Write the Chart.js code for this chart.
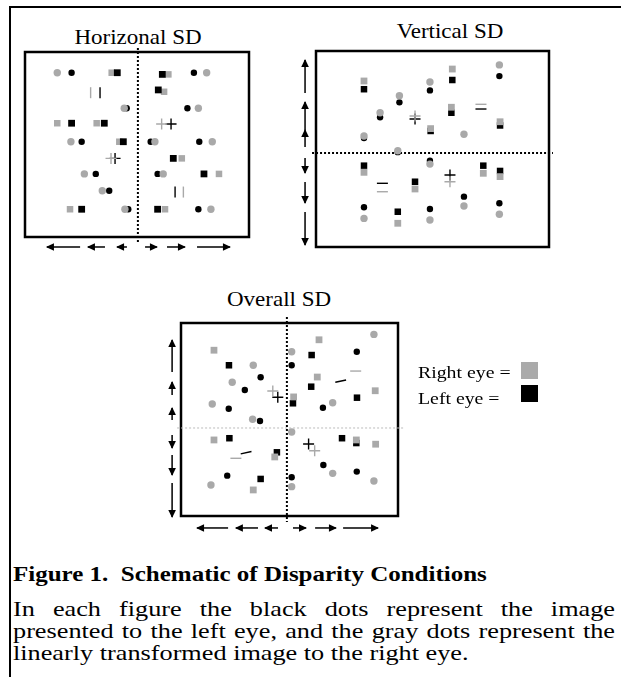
<!DOCTYPE html>
<html>
<head>
<meta charset="utf-8">
<script src="https://cdn.jsdelivr.net/npm/chart.js@4.4.1/dist/chart.umd.min.js"></script>
<style>
  html, body { margin: 0; padding: 0; background: #fff; }
  body { width: 621px; height: 677px; position: relative; overflow: hidden;
         font-family: "Liberation Serif", "Times New Roman", serif; color: #000; }
  .frame { position: absolute; left: 9px; top: 6px; right: 0; bottom: 0;
           border-top: 2px solid #000; border-left: 2px solid #000; }
  .panel { position: absolute; }
  .ttl { position: absolute; font-size: 21.5px; line-height: 1; white-space: nowrap;
         transform: translateX(-50%) scaleX(1.07); }
  .key { position: absolute; left: 418px; font-size: 16.5px; line-height: 1; white-space: nowrap;
         transform: scaleX(1.2); transform-origin: left top; }
  .sw { position: absolute; left: 521px; width: 17px; height: 17px; }
  .head { position: absolute; left: 13px; top: 564px; font-size: 20px; line-height: 1; font-weight: bold;
          white-space: pre; transform: scaleX(1.25); transform-origin: left top; }
  .body { position: absolute; left: 13px; top: 598px; width: 481.6px; font-size: 21px; line-height: 22px;
          text-align: justify; transform: scaleX(1.25); transform-origin: left top; }
</style>
</head>
<body>
<div class="frame"></div>

<div class="ttl" style="left:138px; top:27px;">Horizonal SD</div>
<div class="ttl" style="left:450px; top:21px;">Vertical SD</div>
<div class="ttl" style="left:279px; top:289px;">Overall SD</div>

<div class="panel" id="pHorz" style="left:0px; top:40px; width:270px; height:225px;"><canvas id="cHorz"></canvas></div>
<div class="panel" id="pVert" style="left:290px; top:40px; width:290px; height:225px;"><canvas id="cVert"></canvas></div>
<div class="panel" id="pAll" style="left:150px; top:310px; width:270px; height:230px;"><canvas id="cAll"></canvas></div>

<div class="key" style="top:365px;">Right eye =</div>
<div class="key" style="top:391px;">Left eye =</div>
<div class="sw" style="top:362px; background:#aaa;"></div>
<div class="sw" style="top:385px; background:#000;"></div>

<div class="head">Figure 1.  Schematic of Disparity Conditions</div>
<div class="body">In each figure the black dots represent the image presented to the left eye, and the gray dots represent the linearly transformed image to the right eye.</div>

<script>
// every panel box runs 0..100 on both axes, y upwards

// Horizonal SD
var horzGrayCircles = [[14.4,88.8],[81.1,88.8],[44.3,69.6],[77.4,69.6],[20.5,51.5],[58.0,51.5],[83.6,51.5],[26.5,34.1],[61.7,34.1],[34.5,25.0],[44.6,15.0],[83.0,15.0]];
var horzBlackCircles = [[20.8,88.8],[75.4,88.8],[45.4,69.6],[72.5,69.6],[25.3,51.5],[56.1,51.5],[77.8,51.5],[31.6,34.1],[59.2,34.1],[37.6,25.0],[46.1,15.0],[77.4,15.0]];
var horzGraySquares = [[38.7,88.8],[64.0,87.9],[62.1,78.5],[14.4,61.5],[32.0,61.5],[42.1,51.5],[70.0,42.5],[86.6,34.1],[20.1,15.0],[62.5,15.0]];
var horzBlackSquares = [[41.2,88.8],[61.3,87.9],[59.5,79.5],[20.8,61.5],[35.4,61.5],[43.9,51.5],[66.2,42.5],[79.9,34.1],[25.3,15.0],[59.2,15.0]];
var horzGrayPlus = [[61.0,61.1],[38.4,42.5]];
var horzBlackPlus = [[65.2,61.1],[40.2,42.5]];
var horzGrayBars = [[29.3,78.0],[70.7,24.3]];
var horzBlackBars = [[33.5,78.0],[67.0,24.3]];
var horzCenter = [[50.4,102.2],[50.4,-2.7]];
var horzArrowY = -5.4;
var horzArrows = [[24.6,9.8],[35.7,28.1],[45.5,41.1],[53.6,58.9],[63.4,71.4],[76.8,91.5]];

// Vertical SD
var vertGrayCircles = [[35.8,77.2],[27.5,68.5],[48.9,84.2],[78.7,92.9],[63.5,57.5],[20.6,56.6],[35.1,49.1],[48.9,42.3],[63.5,20.9],[20.6,14.6],[48.9,13.8],[78.7,16.7]];
var vertBlackCircles = [[35.8,73.8],[27.5,66.2],[48.9,79.9],[78.7,87.2],[20.6,55.6],[35.1,48.4],[48.9,44.0],[63.5,25.7],[20.6,20.3],[48.9,19.4],[78.7,22.3]];
var vertGraySquares = [[20.6,84.7],[58.5,90.8],[58.1,71.3],[49.2,60.4],[79.0,63.9],[20.6,38.1],[71.8,37.6],[79.0,35.9],[42.5,29.6],[35.1,12.1]];
var vertBlackSquares = [[20.6,80.5],[58.5,85.2],[58.1,68.5],[49.2,59.2],[79.0,62.0],[20.6,41.5],[71.8,41.5],[79.0,38.8],[42.5,33.3],[35.1,18.0]];
var vertGrayPlus = [[42.5,66.8],[57.5,33.3]];
var vertBlackPlus = [[42.5,65.3],[57.5,36.7]];
var vertGrayDash = [[70.8,72.8],[28.5,28.2]];
var vertBlackDash = [[70.8,70.4],[28.5,32.5]];
var vertCenter = [[-1.7,48.0],[101.7,48.0]];
var vertArrowX = -4.7;
var vertArrows = [[78.6,95.4],[59.7,74.0],[51.0,59.7],[45.4,37.8],[33.2,22.4],[17.9,1.0]];

// Overall SD
var allGrayCircles = [[33.3,78.1],[23.6,69.3],[14.4,58.0],[33.0,50.1],[51.0,85.1],[88.9,94.1],[69.9,58.7],[51.0,43.5],[69.9,22.1],[88.9,18.1],[13.8,16.1],[51.0,15.2]];
var allBlackCircles = [[36.7,71.9],[29.4,65.3],[22.0,55.6],[36.4,49.2],[51.0,78.1],[81.0,85.1],[65.4,56.1],[65.6,26.4],[81.0,23.0],[21.3,20.9],[51.0,20.1]];
var allGraySquares = [[15.2,85.9],[63.6,91.3],[62.8,72.0],[89.5,64.9],[51.9,61.7],[15.2,39.4],[43.2,30.6],[80.8,39.4],[89.7,37.2],[33.3,13.5]];
var allBlackSquares = [[22.1,78.1],[60.2,83.4],[60.0,67.0],[81.1,61.3],[51.6,58.4],[22.3,40.3],[44.2,33.0],[74.2,40.3],[80.8,37.8],[36.7,19.2]];
var allGrayPlus = [[42.3,64.8],[61.6,33.8]];
var allBlackPlus = [[44.6,61.5],[58.8,37.3]];
var allGrayDash = [[80.5,75.1],[25.3,29.9]];
var allBlackDash = [[73.6,69.9],[30.0,32.8]];
var allCenterV = [[48.8,103.1],[48.8,-3.1]];
var allCenterH = [[-1.8,45.6],[103.2,45.6]];
var allArrowX = -4.1;
var allArrowsV = [[74.6,91.2],[62.7,69.4],[49.7,56.0],[42.0,35.2],[31.6,21.2],[17.1,-0.5]];
var allArrowY = -6.2;
var allArrowsH = [[21.7,7.4],[35.5,25.3],[44.7,38.7],[51.6,57.6],[61.8,71.4],[74.7,90.8]];

var GRAY = '#a9a9a9';

function xy(list) {
    return list.map(p => ({x: p[0], y: p[1]}));
}

function marks(list, color, style, radius, order, rotation) {
    return {
        data: xy(list),
        pointStyle: style,
        pointRadius: radius,
        pointRotation: rotation || 0,
        backgroundColor: color,
        borderColor: color,
        pointBorderWidth: (style === 'cross' || style === 'line') ? 1.4 : 0,
        order: order,
        clip: false
    };
}

function guide(list, color, width, dash) {
    return {
        data: xy(list), showLine: true, pointRadius: 0,
        borderColor: color, borderWidth: width, borderDash: dash,
        order: 10, clip: false
    };
}

function arrowsH(list, y) {
    return list.map(a => ({
        data: [{x: a[0], y: y}, {x: a[1], y: y}],
        showLine: true, pointRadius: 0, borderColor: '#000', borderWidth: 1.5,
        arrow: true, clip: false, order: 11
    }));
}

function arrowsV(list, x) {
    return list.map(a => ({
        data: [{x: x, y: a[0]}, {x: x, y: a[1]}],
        showLine: true, pointRadius: 0, borderColor: '#000', borderWidth: 1.5,
        arrow: true, clip: false, order: 11
    }));
}

// frame of each panel drawn on the chart area
var boxFrame = {
    id: 'boxFrame',
    beforeDatasetsDraw: function (chart) {
        var a = chart.chartArea, ctx = chart.ctx;
        ctx.save();
        ctx.lineWidth = 2.5;
        ctx.strokeStyle = '#000';
        ctx.strokeRect(a.left, a.top, a.right - a.left, a.bottom - a.top);
        ctx.restore();
    }
};

// arrow heads at the last point of arrow datasets
var arrowHeads = {
    id: 'arrowHeads',
    afterDatasetsDraw: function (chart) {
        var ctx = chart.ctx;
        chart.data.datasets.forEach(function (ds, i) {
            if (!ds.arrow) return;
            var p = chart.getDatasetMeta(i).data;
            var a = p[0], b = p[1];
            var ang = Math.atan2(b.y - a.y, b.x - a.x);
            ctx.save();
            ctx.translate(b.x, b.y);
            ctx.rotate(ang);
            ctx.beginPath();
            ctx.moveTo(1, 0);
            ctx.lineTo(-7, -3.8);
            ctx.lineTo(-7, 3.8);
            ctx.closePath();
            ctx.fillStyle = '#000';
            ctx.fill();
            ctx.restore();
        });
    }
};

function panel(id, pad, datasets) {
    return new Chart(document.getElementById(id), {
        type: 'scatter',
        data: {datasets: datasets},
        options: {
            responsive: true,
            maintainAspectRatio: false,
            animation: false,
            events: [],
            layout: {padding: pad},
            scales: {
                x: {type: 'linear', min: 0, max: 100, display: false},
                y: {type: 'linear', min: 0, max: 100, display: false}
            },
            plugins: {legend: {display: false}, tooltip: {enabled: false}}
        },
        plugins: [boxFrame, arrowHeads]
    });
}

panel('cHorz', {left: 25, right: 21, top: 12, bottom: 28}, [
    marks(horzGrayCircles, GRAY, 'circle', 3.7, 0),
    marks(horzBlackCircles, '#000', 'circle', 3.2, 1),
    marks(horzBlackSquares, '#000', 'rect', 4.8, 2),
    marks(horzGraySquares, GRAY, 'rect', 4.6, 3),
    marks(horzGrayPlus, GRAY, 'cross', 5.5, 4),
    marks(horzBlackPlus, '#000', 'cross', 5.5, 4),
    marks(horzGrayBars, GRAY, 'line', 5.5, 4, 90),
    marks(horzBlackBars, '#000', 'line', 5.5, 4, 90),
    guide(horzCenter, '#000', 2, [2, 2])
].concat(arrowsH(horzArrows, horzArrowY)));

panel('cVert', {left: 26, right: 31, top: 11, bottom: 18}, [
    marks(vertGrayCircles, GRAY, 'circle', 3.7, 0),
    marks(vertBlackCircles, '#000', 'circle', 3.2, 1),
    marks(vertGraySquares, GRAY, 'rect', 4.8, 2),
    marks(vertBlackSquares, '#000', 'rect', 4.6, 3),
    marks(vertGrayPlus, GRAY, 'cross', 5.5, 4),
    marks(vertBlackPlus, '#000', 'cross', 5.5, 4),
    marks(vertGrayDash, GRAY, 'line', 5.5, 4),
    marks(vertBlackDash, '#000', 'line', 5.5, 4),
    guide(vertCenter, '#000', 2, [2, 2])
].concat(arrowsV(vertArrows, vertArrowX)));

panel('cAll', {left: 31, right: 22, top: 13, bottom: 24}, [
    marks(allGrayCircles, GRAY, 'circle', 3.7, 0),
    marks(allBlackCircles, '#000', 'circle', 3.2, 1),
    marks(allGraySquares, GRAY, 'rect', 4.8, 2),
    marks(allBlackSquares, '#000', 'rect', 4.6, 3),
    marks(allGrayPlus, GRAY, 'cross', 5.5, 4),
    marks(allBlackPlus, '#000', 'cross', 5.5, 4),
    marks(allGrayDash, GRAY, 'line', 5.5, 4),
    marks(allBlackDash, '#000', 'line', 5.5, 4, -12),
    guide(allCenterH, '#bbb', 1, [2, 2]),
    guide(allCenterV, '#000', 2, [2, 2])
].concat(arrowsV(allArrowsV, allArrowX)).concat(arrowsH(allArrowsH, allArrowY)));
</script>
</body>
</html>
